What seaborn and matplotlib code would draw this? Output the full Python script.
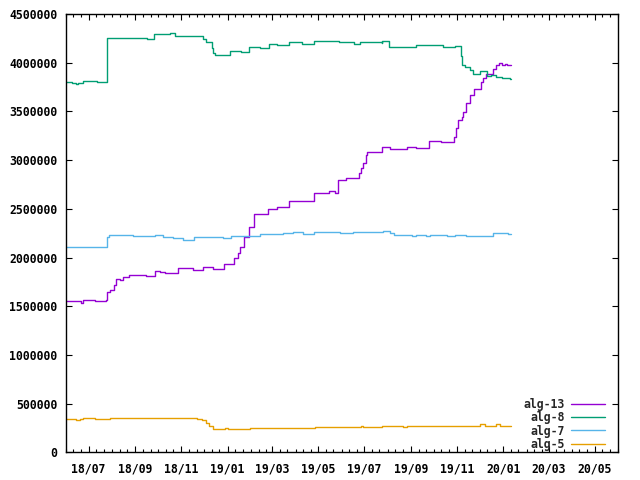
import pandas as pd
import seaborn as sns
import matplotlib.pyplot as plt
import matplotlib.dates as mdates
import matplotlib.ticker as mticker

# values, as step breakpoints
alg13_dates = ["2018-06-01", "2018-06-21", "2018-06-23", "2018-07-10", "2018-07-24",
               "2018-07-26", "2018-07-29", "2018-08-04", "2018-08-06", "2018-08-12",
               "2018-08-15", "2018-08-24", "2018-09-15", "2018-09-27", "2018-10-03",
               "2018-10-10", "2018-10-27", "2018-11-16", "2018-11-29", "2018-12-13",
               "2018-12-27", "2019-01-09", "2019-01-15", "2019-01-17", "2019-01-23",
               "2019-01-29", "2019-02-05", "2019-02-23", "2019-03-08", "2019-03-24",
               "2019-04-25", "2019-05-15", "2019-05-23", "2019-05-27", "2019-06-07",
               "2019-06-24", "2019-06-27", "2019-06-29", "2019-07-03", "2019-07-05",
               "2019-07-24", "2019-08-04", "2019-08-26", "2019-09-07", "2019-09-25",
               "2019-10-10", "2019-10-26", "2019-10-28", "2019-10-31", "2019-11-02",
               "2019-11-07", "2019-11-09", "2019-11-13", "2019-11-18", "2019-11-23",
               "2019-12-02", "2019-12-05", "2019-12-09", "2019-12-18", "2019-12-19",
               "2019-12-23", "2019-12-27", "2019-12-30", "2020-01-03", "2020-01-06",
               "2020-01-12"]
alg13_values = [1550000, 1534000, 1565000, 1551000, 1570000,
                1650000, 1670000, 1719000, 1777000, 1770000,
                1804000, 1818000, 1810000, 1866000, 1850000,
                1839000, 1890000, 1873000, 1900000, 1883000,
                1935000, 1993000, 2050000, 2112000, 2215000,
                2317000, 2445000, 2499000, 2516000, 2584000,
                2660000, 2680000, 2667000, 2797000, 2820000,
                2870000, 2920000, 2970000, 3053000, 3087000,
                3132000, 3115000, 3138000, 3130000, 3200000,
                3187000, 3190000, 3241000, 3327000, 3412000,
                3440000, 3498000, 3584000, 3669000, 3727000,
                3805000, 3840000, 3881000, 3905000, 3933000,
                3977000, 3994000, 3980000, 3990000, 3980000,
                3980000]

alg8_dates = ["2018-06-01", "2018-06-09", "2018-06-15", "2018-06-17", "2018-06-23",
              "2018-07-12", "2018-07-25", "2018-08-26", "2018-08-29", "2018-09-16",
              "2018-09-25", "2018-10-14", "2018-10-17", "2018-10-23", "2018-11-12",
              "2018-11-23", "2018-11-30", "2018-12-04", "2018-12-11", "2018-12-13",
              "2018-12-15", "2019-01-04", "2019-01-19", "2019-01-30", "2019-02-13",
              "2019-02-25", "2019-03-08", "2019-03-24", "2019-04-10", "2019-04-25",
              "2019-05-25", "2019-05-28", "2019-06-18", "2019-06-25", "2019-07-24",
              "2019-07-25", "2019-08-03", "2019-09-08", "2019-10-13", "2019-10-29",
              "2019-11-06", "2019-11-08", "2019-11-11", "2019-11-18", "2019-11-22",
              "2019-12-01", "2019-12-11", "2019-12-16", "2019-12-22", "2019-12-31",
              "2020-01-10", "2020-01-12"]
alg8_values = [3800000, 3790000, 3780000, 3790000, 3810000,
               3800000, 4250000, 4255000, 4250000, 4241000,
               4298000, 4290000, 4309000, 4278000, 4270000,
               4276000, 4244000, 4216000, 4150000, 4097000,
               4078000, 4120000, 4107000, 4158000, 4155000,
               4190000, 4182000, 4210000, 4190000, 4220000,
               4228000, 4213000, 4195000, 4216000, 4205000,
               4226000, 4165000, 4185000, 4165000, 4175000,
               4069000, 3977000, 3953000, 3925000, 3888000,
               3912000, 3864000, 3874000, 3850000, 3840000,
               3830000, 3830000]

alg7_dates = ["2018-06-01", "2018-06-10", "2018-06-23", "2018-07-06", "2018-07-25",
              "2018-07-28", "2018-08-29", "2018-09-27", "2018-10-07", "2018-10-21",
              "2018-11-03", "2018-11-17", "2018-12-26", "2019-01-06", "2019-02-13",
              "2019-02-26", "2019-03-15", "2019-03-29", "2019-04-11", "2019-04-26",
              "2019-05-30", "2019-06-16", "2019-07-08", "2019-07-26", "2019-08-04",
              "2019-08-09", "2019-09-02", "2019-09-08", "2019-09-21", "2019-09-26",
              "2019-10-18", "2019-10-29", "2019-11-13", "2019-12-19", "2020-01-08",
              "2020-01-12"]
alg7_values = [2112000, 2106000, 2112000, 2106000, 2215000,
               2229000, 2218000, 2229000, 2208000, 2198000,
               2184000, 2208000, 2198000, 2222000, 2239000,
               2242000, 2253000, 2260000, 2245000, 2263000,
               2250000, 2260000, 2262000, 2273000, 2255000,
               2232000, 2218000, 2228000, 2218000, 2235000,
               2220000, 2230000, 2220000, 2253000, 2245000,
               2245000]

alg5_dates = ["2018-06-01", "2018-06-15", "2018-06-19", "2018-06-23", "2018-07-09",
              "2018-07-29", "2018-08-24", "2018-09-20", "2018-11-12", "2018-11-22",
              "2018-11-28", "2018-12-03", "2018-12-08", "2018-12-13", "2018-12-28",
              "2019-01-01", "2019-01-16", "2019-01-31", "2019-04-27", "2019-06-27",
              "2019-06-29", "2019-07-24", "2019-08-21", "2019-08-26", "2019-12-01",
              "2019-12-08", "2019-12-23", "2019-12-28", "2020-01-12"]
alg5_values = [341000, 336000, 341000, 351000, 341000,
               351000, 355000, 358000, 355000, 345000,
               330000, 305000, 275000, 245000, 250000,
               244000, 242000, 253000, 262000, 272000,
               266000, 276000, 266000, 276000, 288000,
               276000, 288000, 276000, 276000]

names = ["alg-13", "alg-8", "alg-7", "alg-5"]
colors = ["#9400d3", "#009e73", "#56b4e9", "#e69f00"]

sns.set_style("ticks")
plt.rcParams["font.family"] = ["DejaVu Sans Mono"]
plt.rcParams["font.weight"] = "bold"
plt.rcParams["font.size"] = 8.3

fig, ax = plt.subplots(figsize=(6.4, 4.8), dpi=100)
fig.subplots_adjust(left=0.103, right=0.9656, bottom=0.0573, top=0.9708)

all_dates = [alg13_dates, alg8_dates, alg7_dates, alg5_dates]
all_values = [alg13_values, alg8_values, alg7_values, alg5_values]
for name, d, v, c in zip(names, all_dates, all_values, colors):
    df = pd.DataFrame({"date": pd.to_datetime(d), "value": v})
    sns.lineplot(data=df, x="date", y="value", ax=ax, color=c, linewidth=1.0,
                 drawstyle="steps-post", label=name)

ax.set_xlim(pd.Timestamp("2018-06-01"), pd.Timestamp("2020-06-01"))
ax.set_ylim(0, 4500000)
ax.set_xlabel("")
ax.set_ylabel("")

ax.xaxis.set_major_locator(mdates.MonthLocator(bymonth=[1, 3, 5, 7, 9, 11]))
ax.xaxis.set_major_formatter(mdates.DateFormatter("%y/%m"))
ax.xaxis.set_minor_locator(mdates.DayLocator(bymonthday=[1, 11, 21]))
ax.yaxis.set_major_locator(mticker.MultipleLocator(500000))
ax.yaxis.set_major_formatter(mticker.StrMethodFormatter("{x:.0f}"))

ax.tick_params(which="both", direction="in", top=True, right=True, colors="black",
               labelsize=8.3)
ax.tick_params(which="major", length=4, width=0.8, pad=6)
ax.tick_params(which="minor", length=2, width=0.8)
ax.tick_params(axis="x", which="major", pad=7)
for sp in ax.spines.values():
    sp.set_color("black")
    sp.set_linewidth(1.0)

ax.legend(loc="lower right", bbox_to_anchor=(0.976, 0.004), frameon=False,
          markerfirst=False, handlelength=2.9, handletextpad=0.6,
          labelspacing=0.02, borderpad=0, borderaxespad=0,
          prop={"family": "DejaVu Sans Mono", "weight": "bold", "size": 8.3})

fig.savefig("out.png", dpi=100)
